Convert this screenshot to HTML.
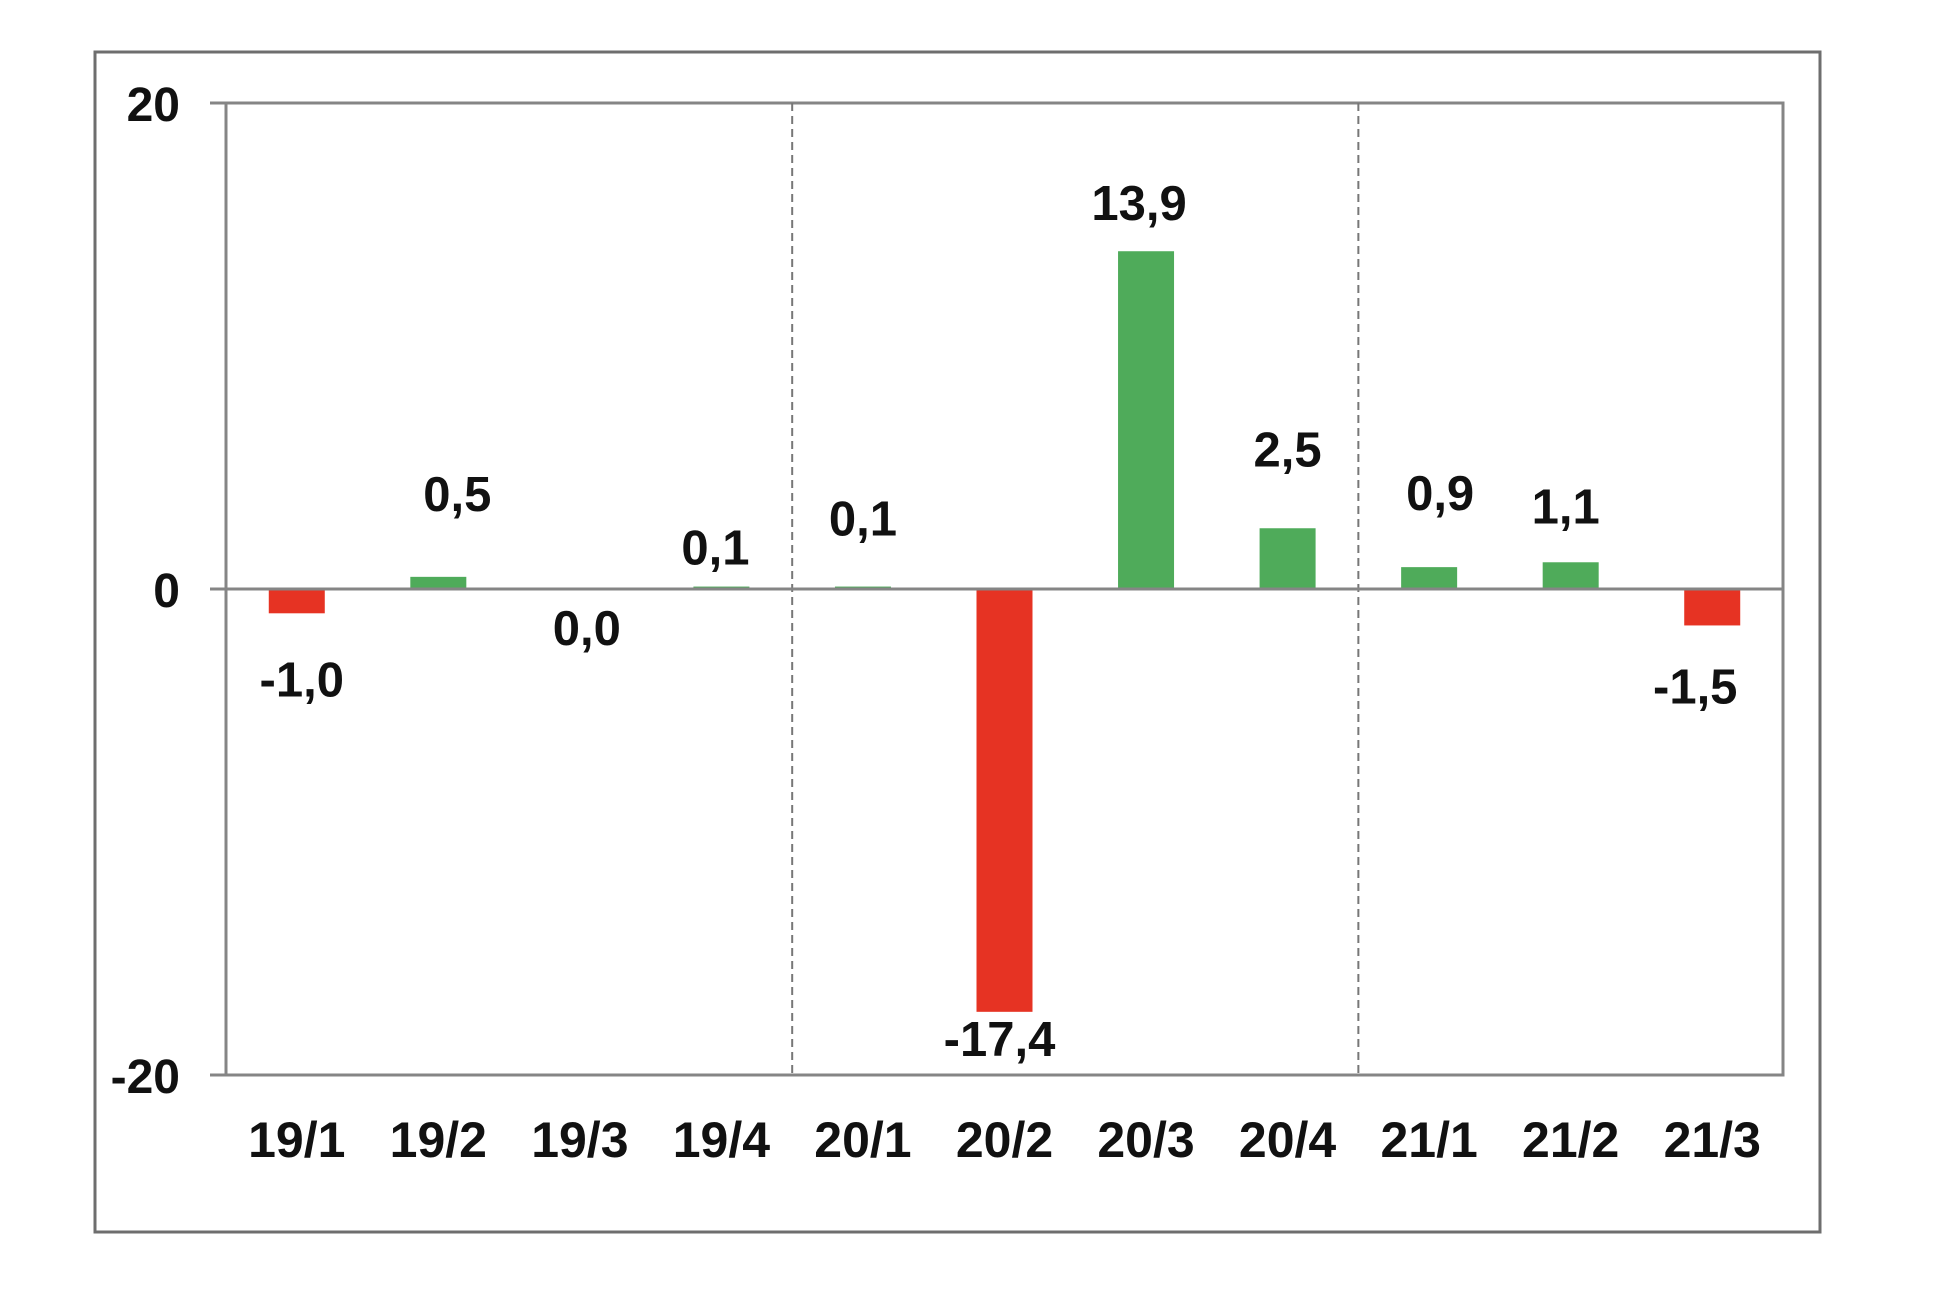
<!DOCTYPE html>
<html><head><meta charset="utf-8"><style>
html,body{margin:0;padding:0;background:#fff;}
svg{display:block;font-family:"Liberation Sans",Arial,sans-serif;font-weight:bold;}
</style></head><body>
<svg id="chart" width="1951" height="1289" viewBox="0 0 1951 1289" xmlns="http://www.w3.org/2000/svg">
<rect x="95" y="52" width="1725" height="1180" fill="#fff" stroke="#6e6e6e" stroke-width="3"/>
<g id="plot"></g>
</svg>
<script>
const categories = ["19/1","19/2","19/3","19/4","20/1","20/2","20/3","20/4","21/1","21/2","21/3"];
const values = [-1.0,0.5,0.0,0.1,0.1,-17.4,13.9,2.5,0.9,1.1,-1.5];
const valueLabels = ["-1,0","0,5","0,0","0,1","0,1","-17,4","13,9","2,5","0,9","1,1","-1,5"];
const yTicks = [20,0,-20];
const yTickLabels = ["20","0","-20"];
const labelOffsets = [83,-66,56,-22,-51,44,-31,-62,-57,-39,78];
const labelShiftX = [5,19,7,-6,0,-5,-7,0,11,-5,-17];

const svgNS = "http://www.w3.org/2000/svg";
const g = document.getElementById('plot');
const L = 226, R = 1783, T = 103, B = 1075;
const yMin = -20, yMax = 20;
const band = (R - L) / categories.length;
const y = v => B - (v - yMin) / (yMax - yMin) * (B - T);
const xc = i => L + band * (i + 0.5);
function mk(tag, attrs){ const e = document.createElementNS(svgNS, tag); for (const k in attrs) e.setAttribute(k, attrs[k]); g.appendChild(e); return e; }

const box = mk('rect',{x:L,y:T,width:R-L,height:B-T,fill:'none',stroke:'#858585','stroke-width':3});



[4,8].forEach(k => {
  const d = mk('line',{x1:L+band*k,x2:L+band*k,y1:T,y2:B,stroke:'#777','stroke-width':2,'stroke-dasharray':'8,5'});
  
  
});

yTicks.forEach((t,i) => {
  const tk = mk('line',{x1:L-16,x2:L,y1:y(t),y2:y(t),stroke:'#858585','stroke-width':3});
  
  
  const tx = mk('text',{x:180,y:y(t)+18,'text-anchor':'end','font-size':48,fill:'#111'});
  tx.textContent = yTickLabels[i];
  
  
});

values.forEach((v,i) => {
  const bw = 56;
  const y0 = y(0), y1 = y(v);
  const r = mk('rect',{x:xc(i)-bw/2,y:Math.min(y0,y1),width:bw,height:Math.max(Math.abs(y1-y0),0.01),fill:v<0?'#e63323':'#4fab5a'});
  
  
  const lb = mk('text',{x:xc(i)+labelShiftX[i],y:y1+labelOffsets[i],'text-anchor':'middle','font-size':49,fill:'#111'});
  lb.textContent = valueLabels[i];
  
  
  const xl = mk('text',{x:xc(i),y:1157,'text-anchor':'middle','font-size':50,fill:'#111'});
  xl.textContent = categories[i];
  
  
});

const z = mk('line',{x1:L-16,x2:R,y1:y(0),y2:y(0),stroke:'#858585','stroke-width':3});


</script>
</body></html>
